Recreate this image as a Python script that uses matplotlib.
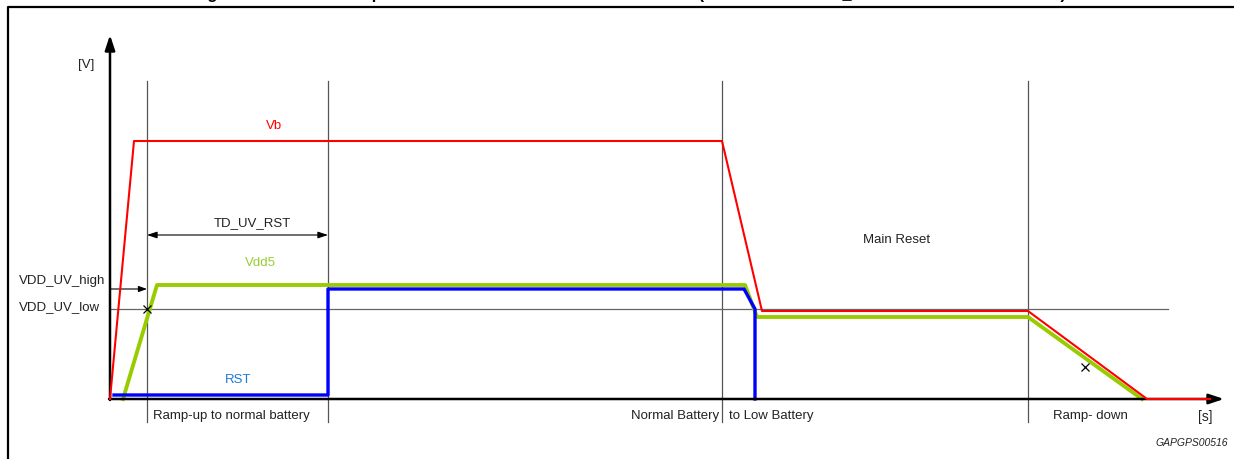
import matplotlib.pyplot as plt

plt.rcParams['font.family'] = ['Liberation Sans', 'DejaVu Sans']

# waveforms: time (arbitrary units) and voltage (arbitrary units)
vb_t = [0, 24, 612, 652, 918, 1037, 1100]
vb_v = [0, 258, 258, 88, 88, 0, 0]
vdd5_t = [13, 47, 635, 647, 918, 1032]
vdd5_v = [0, 114, 114, 82, 82, 0]
rst_t = [4, 218, 218, 634, 645, 645]
rst_v = [4, 4, 110, 110, 90, 0]

uv_high = 110
uv_low = 90
phase_t = [37, 218, 612, 918]   # phase boundaries
td_uv_rst = (37, 218)
cross_t = [37, 975]
cross_v = [90, 32]

title = ("Figure 8. Vdd5 reset at power-on and low Vbatt and at shut-down "
         "(Main reset at VDD_UV threshold and Vb levels)")

fig = plt.figure(figsize=(12.34, 4.59), dpi=100)
ax = fig.add_axes([0, 0, 1, 1])
ax.set_xlim(-110, 1124)
ax.set_ylim(-60, 399)
ax.axis('off')

# outer frame (left and top edges)
ax.plot([-102, -102, 1130], [-70, 392.5, 392.5], color='black', lw=1.6,
        solid_capstyle='butt', clip_on=False)
# title: only the bottom of it is inside the frame, as in the original
fig.text(193 / 1234, 1 + 0.5 / 459, title, fontsize=11.7, fontweight='bold',
         va='baseline', ha='left')

# phase markers
for t in phase_t:
    ax.plot([t, t], [-23, 318], color='#555555', lw=0.9, zorder=1)
ax.plot([0, 1058], [uv_low, uv_low], color='#666666', lw=0.9, zorder=1)

# signals
ax.plot(vdd5_t, vdd5_v, color='#99cc00', lw=2.8, zorder=3)
ax.plot(rst_t, rst_v, color='#0000ff', lw=2.4, zorder=4)
ax.plot(vb_t, vb_v, color='#ff0000', lw=1.5, zorder=9)
ax.plot(cross_t, cross_v, 'x', color='black', ms=6, mew=0.9, zorder=6)

# axes with arrows
ax.annotate('', xy=(0, 364), xytext=(0, -1),
            arrowprops=dict(arrowstyle='-|>,head_length=0.9,head_width=0.3',
                            color='black', lw=1.8, shrinkA=0, shrinkB=0), zorder=7)
ax.annotate('', xy=(1114, 0), xytext=(-1, 0),
            arrowprops=dict(arrowstyle='-|>,head_length=0.9,head_width=0.3',
                            color='black', lw=1.8, shrinkA=0, shrinkB=0), zorder=7)

# VDD_UV_high arrow and TD_UV_RST dimension
ax.annotate('', xy=(37, uv_high), xytext=(0, uv_high),
            arrowprops=dict(arrowstyle='-|>,head_length=0.5,head_width=0.18',
                            color='black', lw=0.8, shrinkA=0, shrinkB=0))
ax.annotate('', xy=(td_uv_rst[1], 164), xytext=(td_uv_rst[0], 164),
            arrowprops=dict(arrowstyle='<|-|>,head_length=0.6,head_width=0.2',
                            color='black', lw=0.8, shrinkA=0, shrinkB=0))

fs = 9.5
tc = '#222222'
ax.text(-24, 334, '[V]', fontsize=fs, color=tc, ha='center', va='center')
ax.text(164, 273, 'Vb', fontsize=fs, color='#ff0000', ha='center', va='center')
ax.text(150, 136, 'Vdd5', fontsize=fs, color='#99cc33', ha='center', va='center')
ax.text(128, 19, 'RST', fontsize=fs, color='#1e7ad2', ha='center', va='center')
ax.text(-91, 118, 'VDD_UV_high', fontsize=fs, color=tc, ha='left', va='center')
ax.text(-91, 92, 'VDD_UV_low', fontsize=fs, color=tc, ha='left', va='center')
ax.text(142, 176, 'TD_UV_RST', fontsize=fs, color=tc, ha='center', va='center')
ax.text(787, 159, 'Main Reset', fontsize=fs, color=tc, ha='center', va='center')
ax.text(43, -17, 'Ramp-up to normal battery', fontsize=fs, color=tc,
        ha='left', va='center')
ax.text(609, -17, 'Normal Battery', fontsize=fs, color=tc, ha='right', va='center')
ax.text(619, -17, 'to Low Battery', fontsize=fs, color=tc, ha='left', va='center')
ax.text(980, -17, 'Ramp- down', fontsize=fs, color=tc, ha='center', va='center')
ax.text(1095, -18, '[s]', fontsize=10, color=tc, ha='center', va='center')
ax.text(1118, -44, 'GAPGPS00516', fontsize=7.5, color=tc, style='italic',
        ha='right', va='center')

fig.savefig('out.png', dpi=100)
